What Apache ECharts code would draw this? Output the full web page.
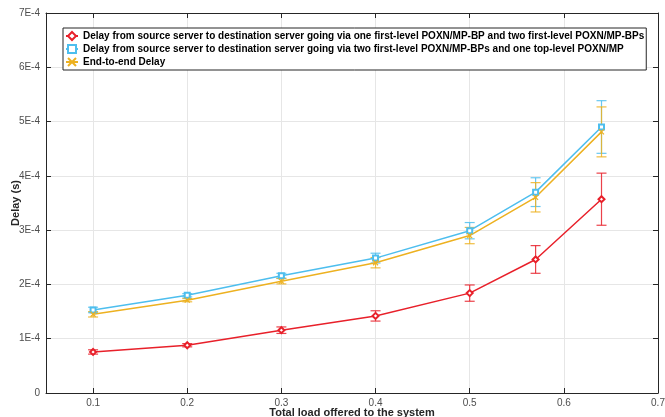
<!DOCTYPE html>
<html>
<head>
<meta charset="utf-8">
<script src="https://cdn.jsdelivr.net/npm/echarts@6/dist/echarts.min.js"></script>
<style>html,body{margin:0;padding:0;background:#fff;}#c{width:665px;height:417px;}</style>
</head>
<body>
<div id="c"></div>
<script>
// Data (delay values in units of 1E-4 s)
const loads = [0.1, 0.2, 0.3, 0.4, 0.5, 0.57, 0.64];
const redName = 'Delay from source server to destination server going via one first-level POXN/MP-BP and two first-level POXN/MP-BPs';
const blueName = 'Delay from source server to destination server going via two first-level POXN/MP-BPs and one top-level POXN/MP';
const yellowName = 'End-to-end Delay';
const redDelay = [0.756, 0.88, 1.157, 1.42, 1.84, 2.46, 3.57];
const redErr = [0.04, 0.03, 0.06, 0.095, 0.15, 0.255, 0.48];
const blueDelay = [1.53, 1.80, 2.16, 2.485, 2.99, 3.70, 4.90];
const blueErr = [0.05, 0.03, 0.045, 0.09, 0.15, 0.265, 0.485];
const yellowDelay = [1.45, 1.71, 2.06, 2.40, 2.90, 3.605, 4.81];
const yellowErr = [0.05, 0.03, 0.05, 0.095, 0.15, 0.27, 0.46];
const xTicks = [0.1, 0.2, 0.3, 0.4, 0.5, 0.6, 0.7];

const RED = '#e8202a', BLUE = '#4dbeee', YELLOW = '#edb120';
const AX = '#262626', GRIDC = '#e6e6e6', LBL = '#4d4d4d';
const FONT = 'Liberation Sans, Arial, sans-serif';

function lineSeries(name, vals, color, symbol, size) {
  return {
    name: name, type: 'line', xAxisIndex: 0, yAxisIndex: 0,
    data: loads.map((x, i) => [x, vals[i]]),
    symbol: symbol, symbolSize: size,
    lineStyle: { color: color, width: 1.5 },
    itemStyle: { color: color, borderColor: color, borderWidth: 1.2 },
    z: 3
  };
}
function errSeries(vals, errs, color) {
  return {
    type: 'custom', xAxisIndex: 0, yAxisIndex: 0, silent: true, z: 2,
    data: loads.map((x, i) => [x, vals[i] - errs[i], vals[i] + errs[i]]),
    renderItem: function (params, api) {
      const lo = api.coord([api.value(0), api.value(1)]);
      const hi = api.coord([api.value(0), api.value(2)]);
      const w = 5;
      const st = { stroke: color, lineWidth: 1.2, opacity: 0.85 };
      return { type: 'group', children: [
        { type: 'line', shape: { x1: lo[0], y1: lo[1], x2: hi[0], y2: hi[1] }, style: st },
        { type: 'line', shape: { x1: lo[0] - w, y1: lo[1], x2: lo[0] + w, y2: lo[1] }, style: st },
        { type: 'line', shape: { x1: hi[0] - w, y1: hi[1], x2: hi[0] + w, y2: hi[1] }, style: st }
      ]};
    }
  };
}

const chart = echarts.init(document.getElementById('c'), null, { renderer: 'canvas' });
chart.setOption({
  animation: false,
  backgroundColor: '#fff',
  textStyle: { fontFamily: FONT },
  grid: { left: 46, right: 7, top: 13, bottom: 24, containLabel: false, outerBoundsMode: 'none' },
  legend: {
    orient: 'vertical', left: 63, top: 28,
    data: [redName, blueName, yellowName],
    backgroundColor: '#fff', borderColor: AX, borderWidth: 1,
    padding: [3, 2, 3, 2], itemGap: 3, itemWidth: 12, itemHeight: 10,
    textStyle: { fontSize: 10, fontWeight: 'bold', color: '#000', fontFamily: FONT }
  },
  xAxis: [{
    type: 'value', min: 0.05, max: 0.7, position: 'bottom',
    name: 'Total load offered to the system', nameLocation: 'middle', nameGap: 14, nameMoveOverlap: false,
    nameTextStyle: { fontSize: 11, fontWeight: 'bold', color: '#262626', fontFamily: FONT },
    axisLine: { show: true, onZero: false, lineStyle: { color: AX, width: 1 } },
    axisTick: { show: true, inside: true, length: 5, customValues: xTicks, lineStyle: { color: AX } },
    axisLabel: { customValues: xTicks, fontSize: 10, color: LBL, margin: 5, formatter: v => v.toFixed(1) },
    splitLine: { show: true, lineStyle: { color: GRIDC, width: 1 } }
  }, {
    type: 'value', min: 0.05, max: 0.7, position: 'top',
    axisLine: { show: true, onZero: false, lineStyle: { color: AX, width: 1 } },
    axisTick: { show: true, inside: true, length: 5, customValues: xTicks, lineStyle: { color: AX } },
    axisLabel: { show: false }, splitLine: { show: false }
  }],
  yAxis: [{
    type: 'value', min: 0, max: 7, interval: 1, position: 'left',
    name: 'Delay (s)', nameLocation: 'middle', nameGap: 25, nameMoveOverlap: false,
    nameTextStyle: { fontSize: 11, fontWeight: 'bold', color: '#262626', fontFamily: FONT },
    axisLine: { show: true, onZero: false, lineStyle: { color: AX, width: 1 } },
    axisTick: { show: true, inside: true, length: 5, lineStyle: { color: AX } },
    axisLabel: { fontSize: 10, color: LBL, margin: 6, formatter: v => v === 0 ? '0' : v + 'E-4' },
    splitLine: { show: true, lineStyle: { color: GRIDC, width: 1 } }
  }, {
    type: 'value', min: 0, max: 7, interval: 1, position: 'right',
    axisLine: { show: true, onZero: false, lineStyle: { color: AX, width: 1 } },
    axisTick: { show: true, inside: true, length: 5, lineStyle: { color: AX } },
    axisLabel: { show: false }, splitLine: { show: false }
  }],
  series: [
    errSeries(redDelay, redErr, RED),
    errSeries(blueDelay, blueErr, BLUE),
    errSeries(yellowDelay, yellowErr, YELLOW),
    lineSeries(redName, redDelay, RED, 'emptyDiamond', 6),
    lineSeries(blueName, blueDelay, BLUE, 'emptyRect', 5),
    lineSeries(yellowName, yellowDelay, YELLOW, 'path://M0,0L10,10M10,0L0,10', 5)
  ]
});
</script>
</body>
</html>
